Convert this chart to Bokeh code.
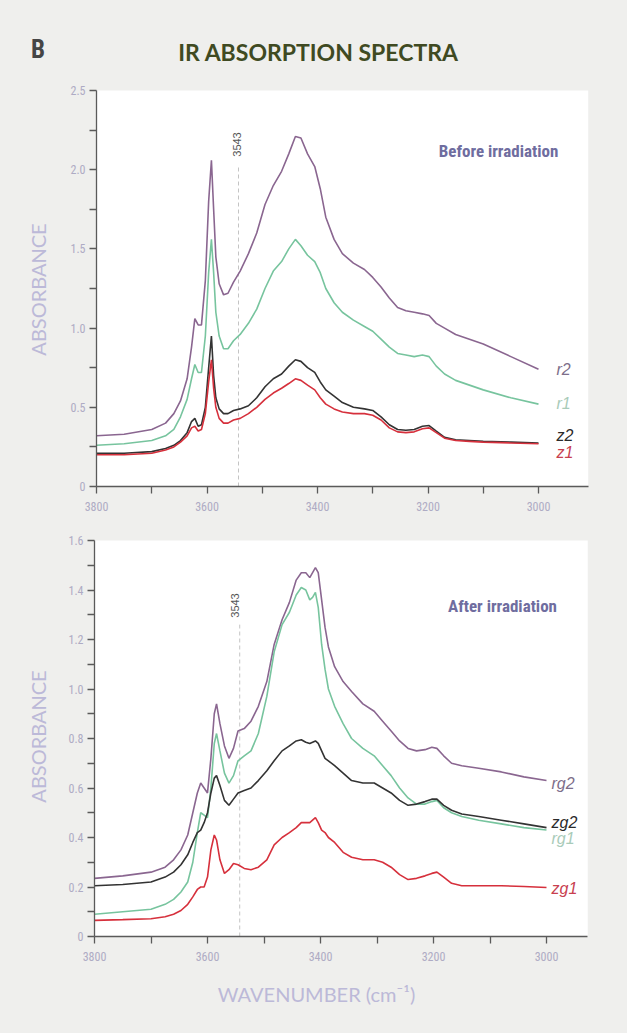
import math
from bokeh.plotting import figure
from bokeh.layouts import column
from bokeh.models import Range1d, FixedTicker, Label, BoxAnnotation
from bokeh.embed import file_html
from bokeh.resources import INLINE

# ---------------- data ----------------
TOP_WN = [3800, 3750, 3700, 3675, 3660, 3648, 3636, 3628, 3622, 3616, 3610, 3603, 3597, 3592,
          3588, 3584, 3578, 3570, 3562, 3552, 3540, 3525, 3510, 3495, 3480, 3465, 3452, 3440,
          3430, 3418, 3405, 3395, 3385, 3370, 3355, 3335, 3315, 3300, 3285, 3270, 3255, 3240,
          3225, 3210, 3198, 3185, 3170, 3150, 3125, 3100, 3050, 3000]
r2 = [0.32, 0.33, 0.36, 0.40, 0.46, 0.54, 0.68, 0.88, 1.06, 1.02, 1.02, 1.30, 1.80, 2.06,
      1.75, 1.45, 1.28, 1.21, 1.22, 1.29, 1.36, 1.47, 1.60, 1.78, 1.90, 1.99, 2.10, 2.21,
      2.20, 2.10, 2.02, 1.88, 1.70, 1.56, 1.47, 1.41, 1.37, 1.32, 1.26, 1.19, 1.13, 1.11,
      1.10, 1.09, 1.08, 1.03, 1.00, 0.96, 0.93, 0.90, 0.82, 0.74]
r1 = [0.26, 0.27, 0.29, 0.32, 0.36, 0.44, 0.55, 0.68, 0.77, 0.72, 0.72, 0.95, 1.35, 1.56,
      1.35, 1.10, 0.95, 0.87, 0.87, 0.92, 0.96, 1.03, 1.12, 1.25, 1.36, 1.42, 1.50, 1.56,
      1.52, 1.46, 1.42, 1.35, 1.25, 1.16, 1.10, 1.05, 1.01, 0.98, 0.93, 0.88, 0.84, 0.83,
      0.82, 0.83, 0.82, 0.76, 0.71, 0.67, 0.64, 0.61, 0.56, 0.52]
z2 = [0.21, 0.21, 0.22, 0.24, 0.26, 0.29, 0.34, 0.41, 0.43, 0.38, 0.39, 0.50, 0.75, 0.95,
      0.70, 0.56, 0.49, 0.46, 0.46, 0.48, 0.49, 0.51, 0.56, 0.63, 0.68, 0.71, 0.76, 0.80,
      0.79, 0.75, 0.72, 0.66, 0.61, 0.57, 0.53, 0.50, 0.49, 0.48, 0.44, 0.39, 0.36, 0.355,
      0.36, 0.38, 0.385, 0.35, 0.31, 0.295, 0.29, 0.285, 0.28, 0.275]
z1 = [0.20, 0.20, 0.21, 0.23, 0.25, 0.28, 0.32, 0.37, 0.38, 0.35, 0.36, 0.46, 0.66, 0.80,
      0.62, 0.50, 0.43, 0.40, 0.40, 0.42, 0.43, 0.46, 0.50, 0.55, 0.59, 0.62, 0.65, 0.68,
      0.67, 0.64, 0.61, 0.56, 0.52, 0.49, 0.47, 0.46, 0.46, 0.45, 0.42, 0.37, 0.345, 0.34,
      0.345, 0.365, 0.37, 0.34, 0.305, 0.29, 0.285, 0.28, 0.275, 0.27]

BOT_WN = [3800, 3750, 3700, 3675, 3660, 3647, 3635, 3626, 3618, 3612, 3606, 3600, 3594, 3588,
          3584, 3578, 3570, 3562, 3554, 3546, 3535, 3523, 3510, 3495, 3482, 3468, 3455, 3443,
          3434, 3426, 3419, 3414, 3409, 3404, 3398, 3392, 3386, 3375, 3360, 3345, 3325, 3305,
          3290, 3275, 3260, 3245, 3230, 3215, 3203, 3194, 3182, 3168, 3150, 3120, 3080, 3040, 3000]
rg2 = [0.235, 0.245, 0.26, 0.28, 0.31, 0.35, 0.41, 0.50, 0.58, 0.62, 0.60, 0.58, 0.72, 0.90,
       0.94, 0.86, 0.77, 0.72, 0.76, 0.83, 0.84, 0.87, 0.93, 1.03, 1.18, 1.28, 1.35, 1.44,
       1.47, 1.47, 1.45, 1.47, 1.49, 1.47, 1.36, 1.25, 1.17, 1.09, 1.03, 0.99, 0.94, 0.91,
       0.87, 0.83, 0.79, 0.76, 0.75, 0.755, 0.765, 0.76, 0.73, 0.70, 0.69, 0.68, 0.665, 0.645, 0.63]
rg1 = [0.09, 0.10, 0.11, 0.13, 0.15, 0.18, 0.22, 0.30, 0.42, 0.50, 0.49, 0.48, 0.60, 0.78,
       0.82, 0.75, 0.66, 0.62, 0.65, 0.71, 0.73, 0.75, 0.82, 0.97, 1.15, 1.26, 1.31, 1.38,
       1.41, 1.40, 1.36, 1.37, 1.39, 1.33, 1.18, 1.08, 1.00, 0.93, 0.86, 0.80, 0.76, 0.73,
       0.69, 0.65, 0.60, 0.56, 0.535, 0.535, 0.545, 0.55, 0.52, 0.50, 0.485, 0.47, 0.455, 0.44, 0.43]
zg2 = [0.205, 0.21, 0.22, 0.24, 0.26, 0.29, 0.33, 0.38, 0.42, 0.43, 0.46, 0.50, 0.58, 0.64,
       0.65, 0.61, 0.55, 0.53, 0.555, 0.58, 0.59, 0.60, 0.63, 0.67, 0.71, 0.75, 0.77, 0.79,
       0.795, 0.785, 0.78, 0.785, 0.79, 0.78, 0.75, 0.72, 0.71, 0.69, 0.66, 0.63, 0.62, 0.62,
       0.60, 0.58, 0.55, 0.53, 0.535, 0.545, 0.555, 0.555, 0.53, 0.51, 0.495, 0.485, 0.47, 0.455, 0.44]
zg1 = [0.065, 0.068, 0.072, 0.08, 0.09, 0.105, 0.13, 0.16, 0.19, 0.20, 0.20, 0.24, 0.35, 0.41,
       0.39, 0.31, 0.255, 0.27, 0.295, 0.29, 0.275, 0.27, 0.28, 0.31, 0.37, 0.40, 0.42, 0.44,
       0.46, 0.46, 0.46, 0.47, 0.48, 0.46, 0.43, 0.42, 0.40, 0.38, 0.34, 0.32, 0.31, 0.31,
       0.30, 0.28, 0.25, 0.23, 0.235, 0.245, 0.255, 0.26, 0.24, 0.215, 0.205, 0.205, 0.205, 0.202, 0.198]

X_TICKS = [3800, 3700, 3600, 3500, 3400, 3300, 3200, 3100, 3000]
X_TICK_LABELS = ["3800", "", "3600", "", "3400", "", "3200", "", "3000"]
TOP_Y_TICKS = [0, 0.25, 0.5, 0.75, 1.0, 1.25, 1.5, 1.75, 2.0, 2.25, 2.5]
TOP_Y_LABELS = ["0", "", "0.5", "", "1.0", "", "1.5", "", "2.0", "", "2.5"]
BOT_Y_TICKS = [0, 0.1, 0.2, 0.3, 0.4, 0.5, 0.6, 0.7, 0.8, 0.9, 1.0, 1.1, 1.2, 1.3, 1.4, 1.5, 1.6]
BOT_Y_LABELS = ["0", "", "0.2", "", "0.4", "", "0.6", "", "0.8", "", "1.0", "", "1.2", "", "1.4", "", "1.6"]

X_START = 3800
TOP_X_END, TOP_Y_MAX = 2910, 2.5
BOT_X_END, BOT_Y_MAX = 2927, 1.6
MARKER_WN = 3543
TITLE = "IR ABSORPTION SPECTRA"
PANEL_LETTER = "B"
Y_LABEL = "ABSORBANCE"
X_LABEL = "WAVENUMBER (cm\u207b\u00b9)"
TOP_NOTE = "Before irradiation"
BOT_NOTE = "After irradiation"
TOP_NAMES = ["r2", "r1", "z2", "z1"]
BOT_NAMES = ["rg2", "zg2", "rg1", "zg1"]

# ---------------- style ----------------
W = 627
PAGE_BG = "#efefed"
AXIS_COL = "#5a5a5a"
TICK_LABEL_COL = "#aeabc4"
AXLABEL_COL = "#bcb9d8"
NOTE_COL = "#6f6d9f"
NARROW = "'Liberation Sans Narrow', 'Roboto Condensed', Roboto, sans-serif"

C_PURPLE = "#8a6690"
C_GREEN = "#77c49e"
C_BLACK = "#333333"
C_RED = "#d6303c"
L_PURPLE = "#7d6e8a"
L_GREEN = "#a9cbb9"
L_BLACK = "#2a2a2a"
L_RED = "#c8404f"


class Panel:
    """A figure whose frame covers the whole canvas; page-pixel helpers for text placement."""

    def __init__(self, height, fig_top, axis_px, px_per_wn, zero_py, px_per_unit,
                 x_end, y_max, yticks, ylabels):
        self.fig_top, self.axis_px, self.xs = fig_top, axis_px, px_per_wn
        self.zero_py, self.ys = zero_py, px_per_unit
        p = figure(width=W, height=height, output_backend="svg", toolbar_location=None,
                   x_range=Range1d(self.wn(0), self.wn(W)),
                   y_range=Range1d(self.val(fig_top + height), self.val(fig_top)),
                   min_border=0)
        p.background_fill_color = PAGE_BG
        p.border_fill_color = PAGE_BG
        p.outline_line_color = None
        p.xgrid.visible = False
        p.ygrid.visible = False
        p.add_layout(BoxAnnotation(left=x_end, right=X_START, bottom=0, top=y_max,
                                   fill_color="white", fill_alpha=1.0, line_color=None,
                                   level="underlay"))
        xa, ya = p.xaxis[0], p.yaxis[0]
        for ax in (xa, ya):
            ax.axis_line_color = AXIS_COL
            ax.axis_line_width = 1.3
            ax.major_tick_line_color = AXIS_COL
            ax.major_tick_line_width = 1.3
            ax.major_tick_out = 7
            ax.major_tick_in = 0
            ax.minor_tick_line_color = None
            ax.major_label_text_color = TICK_LABEL_COL
            ax.major_label_text_font = NARROW
            ax.major_label_text_font_size = "12px"
        xa.fixed_location = 0
        xa.bounds = (x_end, X_START)
        xa.ticker = FixedTicker(ticks=X_TICKS)
        xa.major_label_overrides = {t: l for t, l in zip(X_TICKS, X_TICK_LABELS)}
        xa.major_label_standoff = 8
        ya.fixed_location = X_START
        ya.bounds = (0, y_max)
        ya.ticker = FixedTicker(ticks=yticks)
        ya.major_label_overrides = {t: l for t, l in zip(yticks, ylabels)}
        ya.major_label_standoff = 4
        self.p = p

    def wn(self, px):
        return X_START - (px - self.axis_px) / self.xs

    def val(self, py):
        return (self.zero_py - py) / self.ys

    def text(self, px, py, s, size, color, font="Liberation Sans", fstyle="normal",
             align="left", angle=0.0):
        self.p.add_layout(Label(x=self.wn(px), y=self.val(py), text=s, text_font_size=size,
                                text_color=color, text_font=font, text_font_style=fstyle,
                                text_align=align, text_baseline="middle", angle=angle))


# ---------------- top panel ----------------
T = Panel(520, 0, 96, 0.5525, 486, 158.4, TOP_X_END, TOP_Y_MAX, TOP_Y_TICKS, TOP_Y_LABELS)
top = T.p
top.line([MARKER_WN, MARKER_WN], [0, 2.03], line_color="#c4c4c4", line_dash="4 3", line_width=1)
for ys, c in ((r2, C_PURPLE), (r1, C_GREEN), (z2, C_BLACK), (z1, C_RED)):
    top.line(TOP_WN, ys, line_color=c, line_width=1.6)

T.text(37.5, 49, PANEL_LETTER, "25px", "#454545", font=NARROW, fstyle="bold", align="center")
T.text(318, 51, TITLE, "23px", "#3f4a22", font="Lato", fstyle="bold", align="center")
T.text(37, 289, Y_LABEL, "20px", AXLABEL_COL, font="Lato", align="center", angle=math.pi / 2)
T.text(236, 144, str(MARKER_WN), "11px", "#555555", align="center", angle=math.pi / 2)
T.text(498, 150, TOP_NOTE, "17px", NOTE_COL, font=NARROW, fstyle="bold", align="center")
for name, py, col in zip(TOP_NAMES, [369, 403, 435, 452], [L_PURPLE, L_GREEN, L_BLACK, L_RED]):
    T.text(556, py, name, "16px", col, fstyle="italic")

# ---------------- bottom panel ----------------
B = Panel(513, 520, 94, 0.565, 936, 247.5, BOT_X_END, BOT_Y_MAX, BOT_Y_TICKS, BOT_Y_LABELS)
bot = B.p
bot.line([MARKER_WN, MARKER_WN], [0, 1.26], line_color="#c4c4c4", line_dash="4 3", line_width=1)
for ys, c in ((rg2, C_PURPLE), (rg1, C_GREEN), (zg2, C_BLACK), (zg1, C_RED)):
    bot.line(BOT_WN, ys, line_color=c, line_width=1.6)

B.text(37, 736, Y_LABEL, "20px", AXLABEL_COL, font="Lato", align="center", angle=math.pi / 2)
B.text(234, 605, str(MARKER_WN), "11px", "#555555", align="center", angle=math.pi / 2)
B.text(502, 605, BOT_NOTE, "17px", NOTE_COL, font=NARROW, fstyle="bold", align="center")
for name, py, col in zip(BOT_NAMES, [783, 822, 838, 888], [L_PURPLE, L_BLACK, L_GREEN, L_RED]):
    B.text(551, py, name, "16px", col, fstyle="italic")
B.text(316, 993, X_LABEL, "20px", AXLABEL_COL, font="Lato", align="center")

layout = column(top, bot, spacing=0, styles={"background-color": PAGE_BG})
open("out.html", "w").write(file_html(layout, INLINE))
